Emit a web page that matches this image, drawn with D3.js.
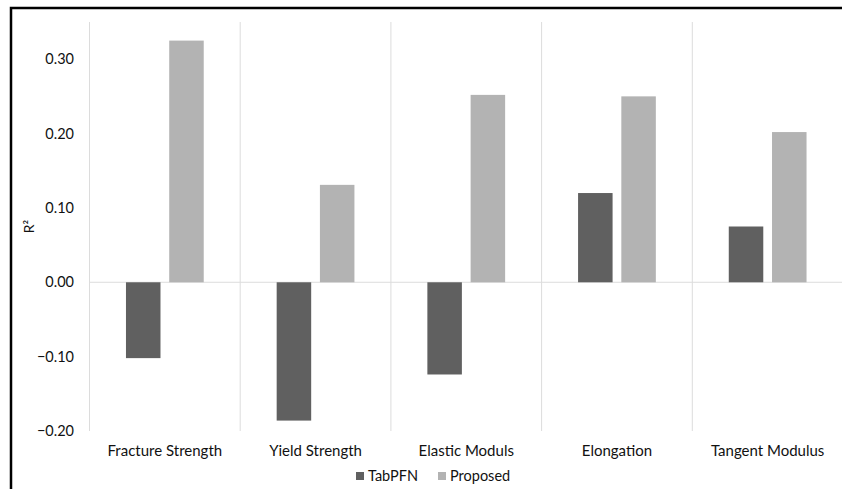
<!DOCTYPE html>
<html>
<head>
<meta charset="utf-8">
<script src="https://cdn.jsdelivr.net/npm/d3@7"></script>
<style>
  body { margin: 0; background: #fff; overflow: hidden; }
  svg { display: block; overflow: hidden; }
  text { font-family: Lato, "Noto Sans", sans-serif; fill: #111; }
</style>
</head>
<body>
<div id="chart"></div>
<script>
// Data
const categories = ["Fracture Strength", "Yield Strength", "Elastic Moduls", "Elongation", "Tangent Modulus"];
const seriesNames = ["TabPFN", "Proposed"];
const tabpfn = [-0.102, -0.186, -0.124, 0.120, 0.075];
const proposed = [0.325, 0.131, 0.252, 0.250, 0.202];
const yTicks = [0.30, 0.20, 0.10, 0.00, -0.10, -0.20];

const colors = {TabPFN: "#606060", Proposed: "#b3b3b3"};

const W = 842, H = 489;
const margin = {top: 22, right: -1, bottom: 58, left: 89.5};
const width = W - margin.left - margin.right,
      height = H - margin.top - margin.bottom;

const svg = d3.select("#chart")
  .append("svg")
    .attr("width", W)
    .attr("height", H);

// black frame (cropped on the right and bottom)
svg.append("rect")
  .attr("x", 11).attr("y", 8)
  .attr("width", W + 20).attr("height", H + 20)
  .attr("fill", "none")
  .attr("stroke", "#000")
  .attr("stroke-width", 2.5);

const g = svg.append("g")
  .attr("transform", `translate(${margin.left},${margin.top})`);

const x = d3.scaleBand()
  .domain(categories)
  .range([0, width]);

const y = d3.scaleLinear()
  .domain([-0.2, 0.35])
  .range([height, 0]);

// bar layout inside each band
const barW = 0.229 * x.bandwidth(),
      gap = 0.058 * x.bandwidth();
const x1 = d3.scaleBand()
  .domain(seriesNames)
  .range([0, 2 * barW + gap])
  .paddingInner(gap / (barW + gap));
const groupOffset = (x.bandwidth() - (2 * barW + gap)) / 2;

// vertical category separators
const bounds = categories.map(c => x(c)).concat([width]);
g.append("g")
  .selectAll("line")
  .data(bounds)
  .join("line")
    .attr("x1", d => d).attr("x2", d => d)
    .attr("y1", 0).attr("y2", height)
    .attr("stroke", "#dcdcdc")
    .attr("stroke-width", 1);

// zero line
g.append("line")
  .attr("x1", 0).attr("x2", width)
  .attr("y1", y(0)).attr("y2", y(0))
  .attr("stroke", "#dcdcdc")
  .attr("stroke-width", 1);

// bars
const rows = categories.map((c, i) => ({cat: c, values: [
  {key: "TabPFN", v: tabpfn[i]},
  {key: "Proposed", v: proposed[i]}
]}));

g.append("g")
  .selectAll("g")
  .data(rows)
  .join("g")
    .attr("transform", d => `translate(${x(d.cat) + groupOffset},0)`)
  .selectAll("rect")
  .data(d => d.values)
  .join("rect")
    .attr("x", d => x1(d.key))
    .attr("width", x1.bandwidth())
    .attr("y", d => y(Math.max(0, d.v)))
    .attr("height", d => Math.abs(y(d.v) - y(0)))
    .attr("fill", d => colors[d.key]);

// y axis labels (no axis line)
const yAxis = g.append("g")
  .call(d3.axisLeft(y).tickValues(yTicks).tickFormat(d3.format(".2f")).tickSize(0).tickPadding(15.5));
yAxis.select(".domain").remove();
yAxis.selectAll("text")
  .style("font-size", "14.5px")
  .style("font-family", "Lato, 'Noto Sans', sans-serif")
  .attr("fill", "#111");

// x axis labels
const xAxis = g.append("g")
  .attr("transform", `translate(0,${height})`)
  .call(d3.axisBottom(x).tickSize(0).tickPadding(14));
xAxis.select(".domain").remove();
xAxis.selectAll("text")
  .style("font-size", "15px")
  .style("font-family", "Lato, 'Noto Sans', sans-serif")
  .attr("fill", "#111");

// y title
svg.append("text")
  .attr("transform", `translate(34,${margin.top + height / 2}) rotate(-90)`)
  .attr("text-anchor", "middle")
  .style("font-size", "14px")
  .text("R²");

// legend
const legend = svg.append("g")
  .attr("transform", "translate(356,476)");
const legendX = [0, 82];
const items = legend.selectAll("g")
  .data(seriesNames)
  .join("g")
    .attr("transform", (d, i) => `translate(${legendX[i]},0)`);
items.append("rect")
  .attr("x", 0).attr("y", -4)
  .attr("width", 8).attr("height", 8)
  .attr("fill", d => colors[d]);
items.append("text")
  .attr("x", 12).attr("y", 0)
  .attr("dy", "0.35em")
  .style("font-size", "14.5px")
  .text(d => d);
</script>
</body>
</html>
